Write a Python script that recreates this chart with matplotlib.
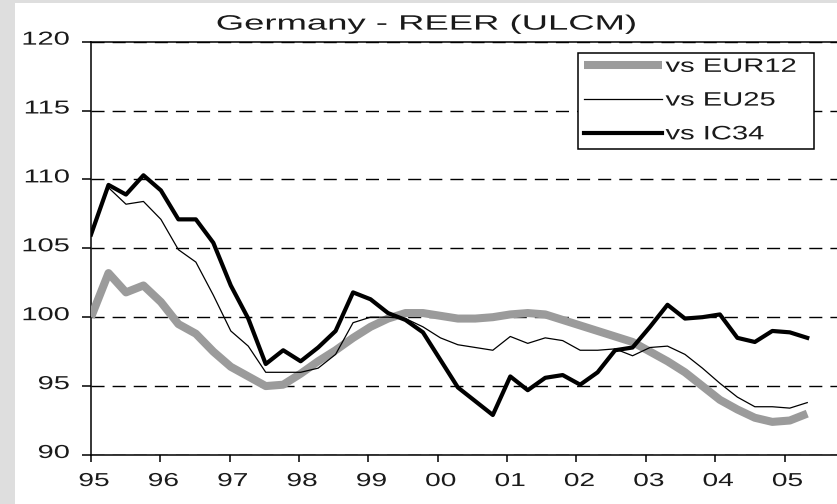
import numpy as np
import matplotlib
matplotlib.use("Agg")
import matplotlib.pyplot as plt
from matplotlib import patheffects
from matplotlib.transforms import Affine2D

# ---------------- data (quarterly, 1995Q1 .. 2005Q2) ----------------
quarters = np.arange(42)
year_labels = ["95", "96", "97", "98", "99", "00", "01", "02", "03", "04", "05"]
y_ticks = [90, 95, 100, 105, 110, 115, 120]

eur12 = [100.0, 103.2, 101.8, 102.3, 101.1, 99.5, 98.8, 97.5, 96.4, 95.7,
         95.0, 95.1, 95.9, 96.8, 97.6, 98.5, 99.3, 99.9, 100.3, 100.3,
         100.1, 99.9, 99.9, 100.0, 100.2, 100.3, 100.2, 99.8, 99.4, 99.0,
         98.6, 98.2, 97.5, 96.8, 96.0, 95.0, 94.0, 93.3, 92.7, 92.4,
         92.5, 93.0]
eu25 = [106.0, 109.4, 108.2, 108.4, 107.1, 104.9, 104.0, 101.6, 99.0, 97.9,
        96.0, 96.0, 96.0, 96.3, 97.3, 99.6, 100.0, 100.0, 99.9, 99.3,
        98.5, 98.0, 97.8, 97.6, 98.6, 98.1, 98.5, 98.3, 97.6, 97.6,
        97.7, 97.2, 97.8, 97.9, 97.3, 96.3, 95.2, 94.2, 93.5, 93.5,
        93.4, 93.8]
ic34 = [106.0, 109.6, 108.9, 110.3, 109.2, 107.1, 107.1, 105.4, 102.3, 99.9,
        96.6, 97.6, 96.8, 97.8, 99.0, 101.8, 101.3, 100.3, 99.8, 98.9,
        96.9, 94.9, 93.9, 92.9, 95.7, 94.7, 95.6, 95.8, 95.1, 96.0,
        97.6, 97.8, 99.3, 100.9, 99.9, 100.0, 100.2, 98.5, 98.2, 99.0,
        98.9, 98.5]
series_labels = ["vs EUR12", "vs EU25", "vs IC34"]


# horizontal stretch of rendered text (the reference is stretched sideways)
class HStretch(patheffects.AbstractPathEffect):
    def __init__(self, sx, anchor="center", dx=0.0, dy=0.0):
        super().__init__()
        self.sx = sx
        self.anchor = anchor
        self.dx = dx
        self.dy = dy

    def draw_path(self, renderer, gc, tpath, affine, rgbFace=None):
        ext = tpath.get_extents(affine)
        if self.anchor == "left":
            cx = ext.x0
        elif self.anchor == "right":
            cx = ext.x1
        else:
            cx = 0.5 * (ext.x0 + ext.x1)
        a = affine + (Affine2D().translate(-cx, 0).scale(self.sx, 1)
                      .translate(cx + self.dx, self.dy))
        renderer.draw_path(gc, tpath, a, rgbFace)


plt.rcParams["font.family"] = ["Liberation Sans", "DejaVu Sans"]

W, H = 837, 504
fig = plt.figure(figsize=(8.374, 5.044), dpi=100, facecolor="white")

# grey page border strips (left and top)
for rect in ([0, 0, 15 / W, 1], [0, 1 - 3 / H, 1, 3 / H]):
    bax = fig.add_axes(rect, zorder=-5)
    bax.set_facecolor("#dedede")
    bax.set_xticks([])
    bax.set_yticks([])
    for sp in bax.spines.values():
        sp.set_visible(False)

ax = fig.add_axes([91 / W, 49 / H, (W - 91) / W, 413 / H])
ax.set_facecolor("white")
ax.set_xlim(0, (W - 91) / 17.46)
ax.set_ylim(y_ticks[0], y_ticks[-1])

for s in ["left", "bottom", "top"]:
    ax.spines[s].set_linewidth(1.1)
    ax.spines[s].set_color("black")
ax.spines["right"].set_visible(False)

ax.set_axisbelow(True)
ax.yaxis.grid(True, color="black", linewidth=1.0, linestyle=(0, (9.4, 5.8)))
ax.xaxis.grid(False)

ax.plot(quarters, eur12, color="#9b9b9b", lw=5.8, solid_joinstyle="round",
        solid_capstyle="butt", label=series_labels[0], zorder=3)
ax.plot(quarters, eu25, color="black", lw=0.9, label=series_labels[1], zorder=4)
ax.plot(quarters, ic34, color="black", lw=3.0, solid_joinstyle="round",
        label=series_labels[2], zorder=5)

ax.set_yticks(y_ticks)
ax.set_yticklabels([str(v) for v in y_ticks])
ax.set_xticks(np.arange(len(year_labels)) * 3.97)
ax.set_xticklabels(year_labels)
ax.tick_params(axis="y", direction="out", length=6.5, width=1.1, pad=9,
               labelsize=13.5, labelcolor="#1a1a1a")
ax.tick_params(axis="x", direction="out", length=5, width=1.1, pad=8,
               labelsize=13.5, labelcolor="#1a1a1a")
for lbl in ax.get_yticklabels():
    lbl.set_path_effects([HStretch(1.55, "right", dy=3.5)])
for lbl in ax.get_xticklabels():
    lbl.set_path_effects([HStretch(1.5, "center", dx=3.0)])

leg = ax.legend(loc="upper left", bbox_to_anchor=(0.653, 0.736, 0.315, 0.237),
                mode="expand", borderaxespad=0, borderpad=0.28, labelspacing=0.83,
                handlelength=4.0, handletextpad=0.2, fontsize=14, frameon=True,
                fancybox=False, edgecolor="black", framealpha=1)
leg.get_frame().set_linewidth(1.1)
leg.get_frame().set_facecolor("white")
for t in leg.get_texts():
    t.set_color("#1a1a1a")
    t.set_path_effects([HStretch(1.5, "left")])

fig.text(426.5 / W, (H - 30) / H, "Germany - REER (ULCM)", ha="center",
         va="baseline", fontsize=15, color="#1a1a1a",
         path_effects=[HStretch(1.75, "center")])

fig.savefig("out.png", dpi=100, facecolor="white")
